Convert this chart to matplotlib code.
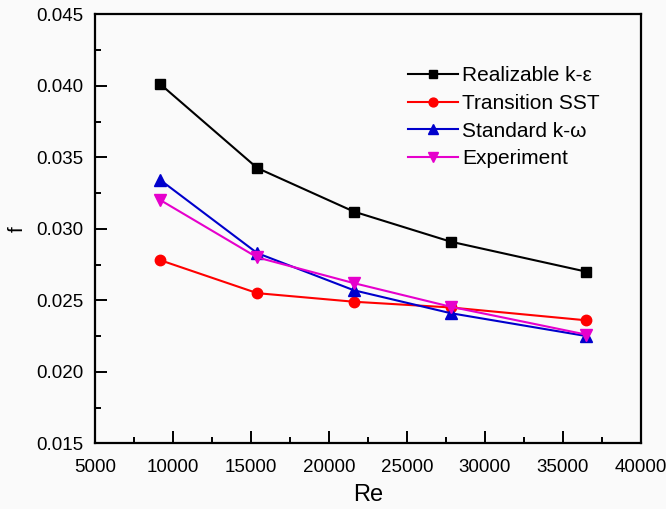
import matplotlib
matplotlib.use("Agg")
import matplotlib.pyplot as plt
from matplotlib.ticker import MultipleLocator

plt.rcParams["font.family"] = ["Liberation Sans", "DejaVu Sans"]

re = [9200, 15400, 21600, 27800, 36500]
realizable = [0.0401, 0.03425, 0.0312, 0.0291, 0.0270]
transition_sst = [0.0278, 0.0255, 0.0249, 0.0245, 0.0236]
standard_kw = [0.0334, 0.0283, 0.0257, 0.0241, 0.0225]
experiment = [0.0320, 0.0280, 0.0262, 0.02455, 0.0226]

series = [
    ("Realizable k-ε", realizable, "black", "s", 6.5),
    ("Transition SST", transition_sst, "#ff0000", "o", 7.5),
    ("Standard k-ω", standard_kw, "#0000cc", "^", 8.5),
    ("Experiment", experiment, "#e600cc", "v", 8.5),
]

bg = "#fafafa"
fig = plt.figure(figsize=(6.66, 5.09), dpi=100, facecolor=bg)
ax = fig.add_axes([0.1426, 0.129, 0.8199, 0.843], facecolor=bg)

for label, vals, color, marker, ms in series:
    ax.plot(re, vals, color=color, marker=marker, markersize=ms,
            linewidth=1.5, label=label)

ax.set_xlim(5000, 40000)
ax.set_ylim(0.015, 0.045)
ax.xaxis.set_major_locator(MultipleLocator(5000))
ax.xaxis.set_minor_locator(MultipleLocator(2500))
ax.yaxis.set_major_locator(MultipleLocator(0.005))
ax.yaxis.set_minor_locator(MultipleLocator(0.0025))
ax.yaxis.set_major_formatter(plt.FormatStrFormatter("%.3f"))

ax.tick_params(axis="x", which="major", pad=11)
ax.tick_params(axis="y", which="major", pad=8)
ax.tick_params(which="major", direction="in", length=8.5, width=1.4,
               labelsize=13.5)
ax.tick_params(which="minor", direction="in", length=4.5, width=1.4)
ax.tick_params(top=False, right=False, which="both")
for sp in ax.spines.values():
    sp.set_linewidth(1.6)

ax.set_xlabel("Re", fontsize=17, labelpad=6)
ax.set_ylabel("f", fontsize=15, labelpad=7)

ax.legend(loc="upper left", bbox_to_anchor=(0.573, 0.879), frameon=False,
          fontsize=15, handlelength=2.4, handletextpad=0.2,
          labelspacing=0.42, borderpad=0, borderaxespad=0, markerscale=0.85)

fig.savefig("out.png", dpi=100, facecolor=bg)
